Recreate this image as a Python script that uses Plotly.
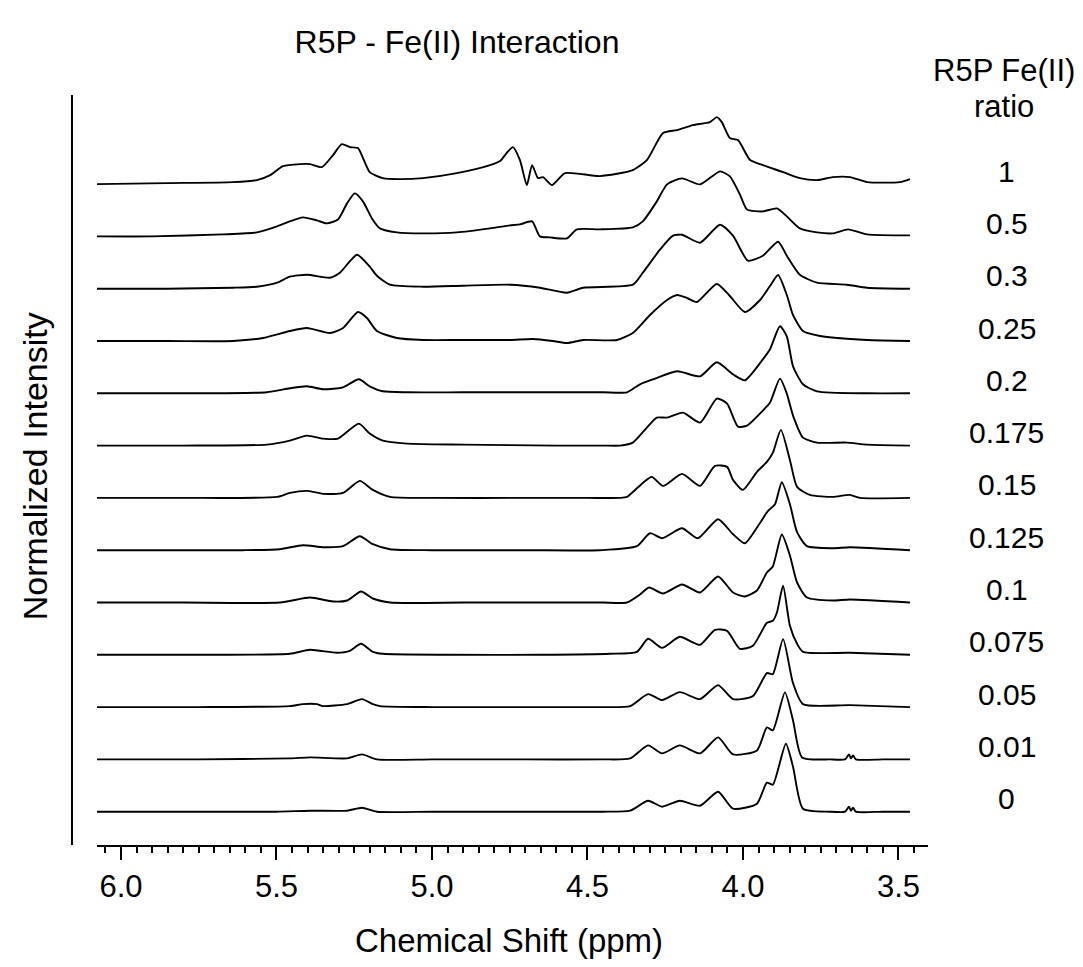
import plotly.graph_objects as go

# ---------------- data ----------------
RATIOS = ["1", "0.5", "0.3", "0.25", "0.2", "0.175", "0.15", "0.125",
          "0.1", "0.075", "0.05", "0.01", "0"]

PPM_1 = [6.077, 5.85, 5.64, 5.563, 5.52, 5.479, 5.424, 5.392, 5.354, 5.318, 5.29, 5.264, 5.238,
         5.219, 5.2, 5.158, 5.103, 5.029, 4.92, 4.813, 4.781, 4.76, 4.74, 4.717, 4.695, 4.678,
         4.659, 4.643, 4.614, 4.572, 4.46, 4.354, 4.309, 4.257, 4.212, 4.161, 4.106, 4.084,
         4.068, 4.042, 4.016, 3.977, 3.936, 3.871, 3.817, 3.762, 3.711, 3.656, 3.601, 3.495, 3.463]
INT_1 = [0, 1, 2, 4, 9, 18, 20, 20, 17, 29, 40, 37, 36,
         24, 12, 6, 5, 6, 11, 19, 23, 31, 37, 24, -1, 19,
         6, 7, -1, 11, 8, 14, 24, 51, 54, 59, 62, 67,
         62, 46, 44, 24, 19, 12, 6, 4, 7, 7, 2, 2, 5]

PPM_05 = [6.077, 5.9, 5.672, 5.563, 5.498, 5.457, 5.415, 5.37, 5.338, 5.302, 5.273, 5.248, 5.222,
          5.193, 5.167, 5.113, 5.029, 4.92, 4.813, 4.749, 4.717, 4.678, 4.653, 4.621, 4.566,
          4.534, 4.46, 4.354, 4.322, 4.277, 4.244, 4.196, 4.138, 4.074, 4.042, 4.01, 3.987,
          3.936, 3.891, 3.859, 3.817, 3.762, 3.711, 3.662, 3.601, 3.463]
INT_05 = [0, 0, 2, 4, 10, 15, 19, 16, 13, 17, 33, 43, 35,
          18, 8, 4, 3, 4, 8, 11, 12, 15, 0, -1, -2,
          7, 7, 9, 15, 35, 52, 58, 52, 65, 60, 42, 27,
          25, 28, 20, 8, 4, 3, 7, 2, 1]

PPM_03 = [6.077, 5.85, 5.64, 5.563, 5.498, 5.457, 5.402, 5.328, 5.296, 5.241, 5.2, 5.177, 5.135,
          5.029, 4.9, 4.749, 4.653, 4.566, 4.514, 4.354, 4.322, 4.267, 4.225, 4.196, 4.138, 4.074,
          4.032, 3.984, 3.936, 3.887, 3.859, 3.817, 3.762, 3.666, 3.601, 3.463]
INT_03 = [0, 0, 1, 2, 6, 12, 14, 11, 16, 34, 22, 13, 4,
          2, 3, 4, 1, -4, 1, 4, 16, 39, 53, 54, 46, 64,
          53, 28, 33, 47, 33, 14, 6, 4, 1, 0]

PPM_025 = [6.077, 5.85, 5.64, 5.543, 5.457, 5.402, 5.328, 5.286, 5.238, 5.209, 5.177, 5.113, 5.029,
           4.9, 4.749, 4.675, 4.611, 4.566, 4.514, 4.405, 4.354, 4.299, 4.244, 4.212, 4.18, 4.148,
           4.084, 4.042, 3.994, 3.945, 3.913, 3.887, 3.859, 3.839, 3.807, 3.752, 3.601, 3.463]
INT_025 = [0, 0, 0, 3, 10, 13, 8, 13, 29, 23, 10, 3, 1,
           1, 1, 2, 0, -2, 1, 1, 8, 26, 41, 46, 43, 39,
           57, 45, 29, 41, 55, 66, 46, 26, 10, 5, 1, 0]

PPM_02 = [6.077, 5.8, 5.531, 5.457, 5.402, 5.35, 5.286, 5.235, 5.2, 5.158, 5.08, 4.9, 4.6, 4.45,
          4.373, 4.331, 4.289, 4.212, 4.138, 4.084, 4.032, 3.994, 3.936, 3.913, 3.881, 3.859,
          3.839, 3.807, 3.762, 3.601, 3.463]
INT_02 = [0, 0, 1, 5, 7, 4, 6, 14, 7, 2, 1, 1, 1, 1,
          1, 9, 14, 22, 17, 31, 19, 13, 34, 44, 67, 57,
          27, 9, 2, 0, 0]

PPM_0175 = [6.077, 5.8, 5.531, 5.457, 5.402, 5.35, 5.302, 5.235, 5.2, 5.158, 5.08, 4.9, 4.6, 4.45,
            4.395, 4.354, 4.309, 4.277, 4.244, 4.193, 4.138, 4.084, 4.051, 4.016, 3.987, 3.936,
            3.913, 3.881, 3.859, 3.839, 3.807, 3.762, 3.666, 3.601, 3.463]
INT_0175 = [0, 0, 1, 5, 10, 7, 7, 22, 12, 5, 2, 1, 0, 0,
            0, 3, 18, 28, 28, 33, 23, 47, 42, 19, 20, 35,
            43, 67, 52, 30, 8, 3, 3, 1, 0]

PPM_015 = [6.077, 5.8, 5.498, 5.457, 5.399, 5.35, 5.286, 5.232, 5.19, 5.135, 5.0, 4.7, 4.5,
           4.395, 4.373, 4.322, 4.293, 4.257, 4.196, 4.138, 4.09, 4.051, 4.032, 4.0, 3.955,
           3.923, 3.904, 3.878, 3.849, 3.826, 3.785, 3.711, 3.656, 3.624, 3.463]
INT_015 = [0, 0, 1, 5, 7, 4, 5, 17, 8, 1, 0, 0, 0,
           0, 1, 15, 21, 12, 24, 12, 32, 31, 18, 8, 26,
           36, 45, 68, 38, 11, 3, 1, 3, 0, 0]

PPM_0125 = [6.077, 5.85, 5.608, 5.489, 5.415, 5.35, 5.286, 5.232, 5.19, 5.135, 5.0, 4.7,
            4.46, 4.341, 4.299, 4.26, 4.196, 4.145, 4.08, 4.032, 3.994, 3.952, 3.92, 3.897,
            3.875, 3.849, 3.826, 3.794, 3.711, 3.656, 3.463]
INT_0125 = [0, 0, 0, 1, 5, 3, 4, 14, 6, 1, 0, 0,
            0, 4, 17, 12, 22, 12, 31, 16, 7, 24, 39, 46,
            68, 46, 18, 4, 2, 3, 0]

PPM_01 = [6.077, 5.8, 5.489, 5.392, 5.318, 5.273, 5.228, 5.19, 5.135, 4.9, 4.6, 4.45,
          4.373, 4.331, 4.302, 4.257, 4.196, 4.138, 4.08, 4.032, 3.994, 3.955, 3.923, 3.904,
          3.875, 3.849, 3.826, 3.794, 3.711, 3.656, 3.463]
INT_01 = [0, 0, 0, 5, 1, 2, 11, 4, 0, 0, 0, 0,
          0, 8, 15, 9, 18, 10, 26, 10, 6, 12, 30, 36,
          68, 47, 20, 5, 2, 3, 0]

PPM_0075 = [6.077, 5.75, 5.457, 5.392, 5.305, 5.264, 5.228, 5.19, 5.158, 4.95, 4.65,
            4.428, 4.341, 4.305, 4.26, 4.203, 4.138, 4.09, 4.051, 4.01, 3.968, 3.923, 3.904,
            3.891, 3.871, 3.849, 3.826, 3.807, 3.656, 3.463]
INT_0075 = [0, 0, 1, 5, 2, 4, 11, 3, 1, 0, 0,
            1, 3, 16, 7, 18, 10, 25, 24, 6, 9, 32, 34,
            42, 69, 29, 11, 3, 2, 0]

PPM_005 = [6.077, 5.75, 5.457, 5.415, 5.37, 5.35, 5.273, 5.225, 5.19, 5.167, 5.0, 4.7, 4.45,
           4.363, 4.305, 4.26, 4.203, 4.138, 4.08, 4.032, 3.968, 3.923, 3.904, 3.871, 3.839,
           3.807, 3.656, 3.463]
INT_005 = [0, 0, 1, 3, 3, 1, 3, 8, 3, 1, 0, 0, 0,
           1, 13, 7, 15, 8, 22, 8, 11, 34, 33, 68, 24,
           3, 2, 0]

PPM_001 = [6.077, 5.75, 5.457, 5.392, 5.273, 5.225, 5.177, 5.0, 4.7, 4.45, 4.363, 4.305,
           4.26, 4.203, 4.138, 4.08, 4.032, 3.955, 3.923, 3.904, 3.865, 3.839, 3.81, 3.72,
           3.672, 3.659, 3.653, 3.646, 3.637, 3.55, 3.463]
INT_001 = [0, 0, 1, 2, 1, 5, 0, 0, 0, 0, 1, 14,
           6, 14, 6, 22, 5, 9, 32, 29, 67, 39, 2, 0,
           0, 5, 1, 4, 0, 0, 0]

PPM_0 = [6.077, 5.75, 5.5, 5.392, 5.273, 5.225, 5.177, 5.0, 4.7, 4.45, 4.363, 4.305, 4.26,
         4.203, 4.138, 4.08, 4.032, 3.955, 3.923, 3.904, 3.862, 3.839, 3.807, 3.72, 3.672,
         3.659, 3.653, 3.646, 3.637, 3.55, 3.463]
INT_0 = [0, 0, 0, 1, 1, 4, 0, 0, 0, 0, 1, 11, 5,
         11, 6, 20, 3, 8, 29, 27, 68, 45, 3, 0, 0,
         5, 1, 4, 0, 0, 0]

SPECTRA_PPM = [PPM_1, PPM_05, PPM_03, PPM_025, PPM_02, PPM_0175, PPM_015, PPM_0125,
               PPM_01, PPM_0075, PPM_005, PPM_001, PPM_0]
SPECTRA_INT = [INT_1, INT_05, INT_03, INT_025, INT_02, INT_0175, INT_015, INT_0125,
               INT_01, INT_0075, INT_005, INT_001, INT_0]

X_TICKS = [6.0, 5.5, 5.0, 4.5, 4.0, 3.5]
X_TICK_TEXT = ["6.0", "5.5", "5.0", "4.5", "4.0", "3.5"]
X_MID_TICKS = [5.75, 5.25, 4.75, 4.25, 3.75]

# ---------------- layout constants ----------------
SPACING = 52.3          # vertical offset between stacked spectra
FONT = "Liberation Sans, Arial, sans-serif"
n = len(RATIOS)
W, H = 1075, 959        # page body adds an 8 px margin around the figure

fig = go.Figure()
for i, (ppm, inten) in enumerate(zip(SPECTRA_PPM, SPECTRA_INT)):
    off = (n - 1 - i) * SPACING
    fig.add_trace(go.Scatter(
        x=ppm, y=[v + off for v in inten], mode="lines",
        line=dict(color="black", width=1.9, shape="spline", smoothing=0.6),
        showlegend=False, hoverinfo="skip"))

annotations = []
for i, lab in enumerate(RATIOS):
    off = (n - 1 - i) * SPACING
    annotations.append(dict(x=1.095, xref="paper", y=off + 13, yref="y", text=lab,
                            showarrow=False, xanchor="center", yanchor="middle",
                            font=dict(family=FONT, size=30, color="black")))
annotations.append(dict(x=1.0915, xref="paper", y=1.0, yref="paper", yshift=25,
                        text="R5P Fe(II)", showarrow=False,
                        xanchor="center", yanchor="middle",
                        font=dict(family=FONT, size=31, color="black")))
annotations.append(dict(x=1.0915, xref="paper", y=1.0, yref="paper", yshift=-11,
                        text="ratio", showarrow=False,
                        xanchor="center", yanchor="middle",
                        font=dict(family=FONT, size=31, color="black")))
annotations.append(dict(x=-0.0746, xref="paper", y=0.505, yref="paper",
                        text="Normalized Intensity", textangle=-90, showarrow=False,
                        xanchor="center", yanchor="middle",
                        font=dict(family=FONT, size=34, color="black")))
annotations.append(dict(x=0.4955, xref="paper", y=0, yref="paper", yshift=-95,
                        text="Chemical Shift (ppm)", showarrow=False,
                        xanchor="center", yanchor="middle",
                        font=dict(family=FONT, size=33, color="black")))

fig.update_layout(
    width=W, height=H,
    margin=dict(l=89, r=155, t=87, b=122),
    paper_bgcolor="white", plot_bgcolor="white",
    title=dict(text="R5P - Fe(II) Interaction", x=449 / W, xanchor="center",
               y=1 - 34 / H, yanchor="middle",
               font=dict(family=FONT, size=32, color="black")),
    annotations=annotations,
    shapes=[dict(type="line", xref="paper", yref="paper", x0=-0.0301, x1=-0.0301,
                 y0=0, y1=1, line=dict(color="black", width=2))],
)

fig.update_layout(xaxis=dict(
    range=[6.077, 3.405], tickmode="array", tickvals=X_TICKS, ticktext=X_TICK_TEXT,
    showline=True, linecolor="black", linewidth=2, showgrid=False, zeroline=False,
    ticks="outside", ticklen=13, tickwidth=2, tickcolor="black",
    tickfont=dict(family=FONT, size=31, color="black"), ticklabelstandoff=0,
    minor=dict(tickmode="linear", tick0=3.5, dtick=0.05, ticks="outside", ticklen=6,
               tickwidth=1.5, tickcolor="black", showgrid=False),
))
fig.update_layout(xaxis2=dict(
    overlaying="x", matches="x", anchor="y", side="bottom",
    tickmode="array", tickvals=X_MID_TICKS, ticks="outside", ticklen=10, tickwidth=1.8,
    tickcolor="black", showticklabels=False, showline=False, showgrid=False,
    zeroline=False,
))
fig.update_yaxes(range=[-33.3, 716.7], showline=False, showgrid=False, zeroline=False,
                 showticklabels=False, ticks="")

fig.write_html("out.html")
